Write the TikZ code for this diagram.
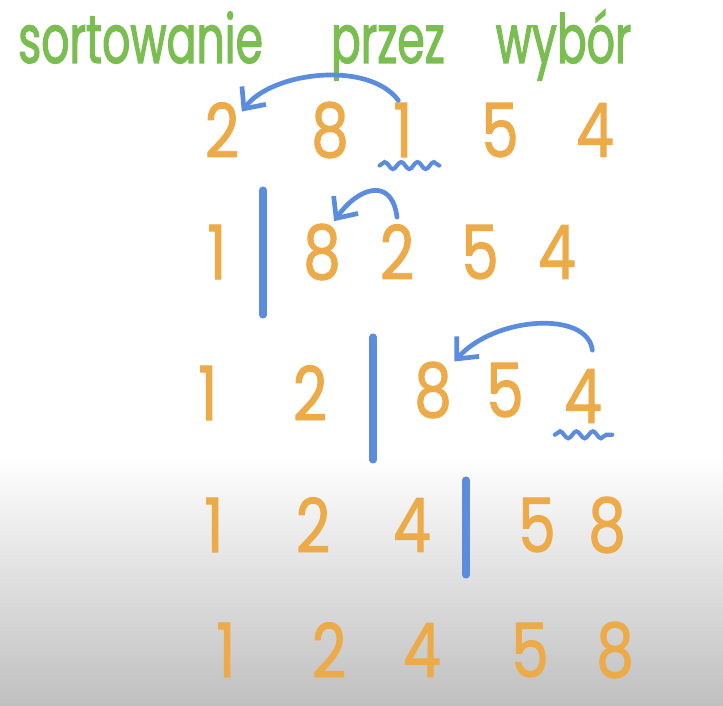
\documentclass[tikz,border=0pt]{standalone}
\usepackage{fontspec}
\setmainfont{Poppins}
\newfontfamily\handfont[FakeStretch=0.8,FakeBold=1.2]{Poppins}
\newfontfamily\headfont[FakeStretch=0.65,FakeBold=1.5]{Poppins}
\usetikzlibrary{arrows.meta,decorations.pathmorphing}
\definecolor{ink}{RGB}{236,171,72}
\definecolor{pen}{RGB}{92,140,222}
\definecolor{leaf}{RGB}{122,190,82}
\tikzset{
  num/.style   = {inner sep=0pt, text=ink, font=\handfont\fontsize{64}{64}\selectfont},
  title/.style = {inner sep=0pt, text=leaf, font=\headfont\fontsize{58}{58}\selectfont},
  bar/.style   = {draw=pen, line width=6pt, line cap=round},
  e/.style     = {-{Straight Barb[length=5mm,width=9mm]}, draw=pen, line width=4pt,
                  line cap=round},
  wave/.style  = {draw=pen, line width=3.5pt, line cap=round, decorate,
                  decoration={snake, amplitude=3pt, segment length=14pt}}
}

\begin{document}
\begin{tikzpicture}[x=0.03cm, y=-0.03cm]
  % page and the grey fade at the bottom
  \useasboundingbox (0,0) rectangle (723,706);
  \fill[white] (0,0) rectangle (723,456);
  \shade[top color=white, bottom color=black!25] (0,455) rectangle (723,706);

  \node[title, anchor=base west] (head) at (18,63)
    {sortowanie\hspace{1em}przez\hspace{0.75em}wybór};

  % step 1
  \node[num] (r1a) at (222,130) {2}; \node[num] (r1b) at (330,130) {8};
  \node[num] (r1c) at (403,130) {1}; \node[num] (r1d) at (500,130) {5};
  \node[num] (r1e) at (595,130) {4};
  % step 2
  \node[num] (r2a) at (217,252) {1}; \node[num] (r2b) at (322,252) {8};
  \node[num] (r2c) at (397,252) {2}; \node[num] (r2d) at (480,252) {5};
  \node[num] (r2e) at (557,252) {4};
  % step 3
  \node[num] (r3a) at (208,393) {1}; \node[num] (r3b) at (310,393) {2};
  \node[num] (r3c) at (433,390) {8}; \node[num] (r3d) at (505,390) {5};
  \node[num] (r3e) at (583,396) {4};
  % step 4
  \node[num] (r4a) at (214,525) {1}; \node[num] (r4b) at (313,525) {2};
  \node[num] (r4c) at (412,525) {4}; \node[num] (r4d) at (537,525) {5};
  \node[num] (r4e) at (607,525) {8};
  % step 5
  \node[num] (r5a) at (226,650) {1}; \node[num] (r5b) at (329,650) {2};
  \node[num] (r5c) at (422,650) {4}; \node[num] (r5d) at (530,650) {5};
  \node[num] (r5e) at (615,650) {8};

  % sorted part | rest
  \draw[bar] (263,190) -- (263,315);
  \draw[bar] (373,337) -- (373,460);
  \draw[bar] (466,480) -- (466,575);

  % minimum found, swapped to the front
  \draw[wave] ([xshift=-20pt,yshift=-7pt]r1c.south) -- ([xshift=31pt,yshift=-7pt]r1c.south);
  \draw[wave] ([xshift=-24pt,yshift=-10pt]r3e.south) -- ([xshift=25pt,yshift=-10pt]r3e.south);
  \draw[e] ([xshift=-4pt,yshift=2pt]r1c.north) .. controls +(-30,-40) and +(30,-40)
    .. ([xshift=2pt,yshift=-8pt]r1a.north east);
  \draw[e] ([yshift=6pt]r2c.north) .. controls +(-5,-40) and +(25,-35)
    .. ([xshift=-6pt,yshift=2pt]r2b.north east);
  \draw[e] ([xshift=8pt,yshift=16pt]r3e.north) .. controls +(-5,-40) and +(40,-45)
    .. ([xshift=2pt]r3c.north east);
\end{tikzpicture}
\end{document}
